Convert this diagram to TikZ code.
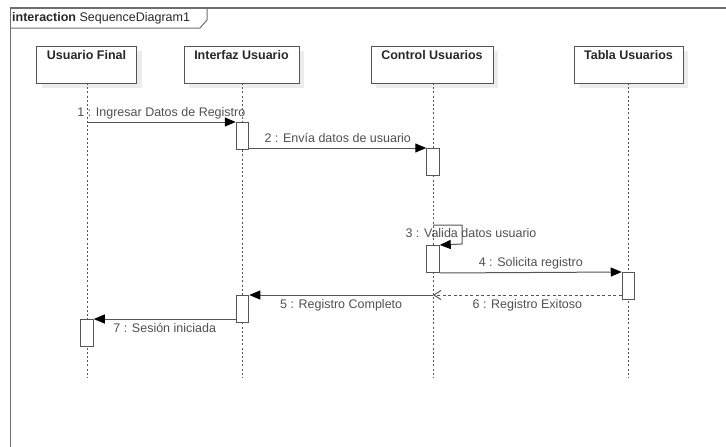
\documentclass[tikz,border=0pt]{standalone}
\usepackage{fontspec}
\setmainfont{Liberation Sans}
\usetikzlibrary{
	arrows.meta,
	positioning,
	shadows
}
\definecolor{LineGray}{RGB}{85,85,85}
\definecolor{FrameGray}{RGB}{110,110,110}
\definecolor{TextGray}{RGB}{80,80,80}
\definecolor{HeadText}{RGB}{40,40,40}
\definecolor{ShadowGray}{RGB}{236,236,236}

\tikzset{
	head/.style={draw=LineGray, fill=white, line width=0.9pt, minimum height=37pt,
		inner sep=0pt, drop shadow={shadow xshift=5pt, shadow yshift=-5pt, fill=ShadowGray, opacity=1}},
	headtext/.style={font=\fontsize{12.5}{14}\selectfont\bfseries, text=HeadText, inner sep=0pt},
	lifeline/.style={draw=LineGray, line width=0.9pt, dash pattern=on 2pt off 2.2pt},
	act/.style={draw=LineGray, fill=white, line width=1pt, minimum width=12.5pt,
		minimum height=27pt, inner sep=0pt, anchor=north},
	msg/.style={draw=LineGray, line width=1pt, -{Triangle[length=11pt, width=9pt, color=black]}},
	reply/.style={draw=LineGray, line width=1pt, dash pattern=on 3pt off 2.5pt,
		-{Straight Barb[length=7pt, width=9pt]}},
	msgtext/.style={font=\fontsize{12.5}{14}\selectfont, text=TextGray, inner sep=0pt,
		text height=9pt, text depth=2.5pt}
}

\begin{document}
\begin{tikzpicture}[x=1pt, y=-1pt]
	\useasboundingbox (0,0) rectangle (726,447);

	% frame and its name tab
	\draw[FrameGray, line width=1.2pt] (10.5,447) -- (10.5,8) -- (726,8);
	\draw[FrameGray, line width=1pt] (10.5,28) -- (200,28) -- (207,20) -- (207,8);
	\node[anchor=west, inner sep=0pt, text=HeadText, font=\fontsize{12.5}{14}\selectfont]
		(title) at (12,18.5) {\textbf{interaction} SequenceDiagram1};

	% lifeline heads
	\node[head, minimum width=100pt] (uf) at (86.5,64.5) {};
	\node[head, minimum width=115pt] (iu) at (241.5,64.5) {};
	\node[head, minimum width=122pt] (cu) at (432,64.5) {};
	\node[head, minimum width=109pt] (tu) at (628.5,64.5) {};
	\node[headtext, below=5pt of uf.north] {Usuario Final};
	\node[headtext, below=5pt of iu.north] {Interfaz Usuario};
	\node[headtext, below=5pt of cu.north] {Control Usuarios};
	\node[headtext, below=5pt of tu.north] {Tabla Usuarios};

	% lifelines
	\coordinate (ufx) at (87,83);
	\coordinate (iux) at (242.5,83);
	\coordinate (cux) at (433,83);
	\coordinate (tux) at (628.5,83);
	\foreach \l in {ufx,iux,cux,tux}
		\draw[lifeline] (\l) -- ++(0,295);

	% activations
	\node[act] (a1) at (iux |- 0,122) {};
	\node[act] (a2) at (cux |- 0,148) {};
	\node[act] (a3) at (cux |- 0,245) {};
	\node[act] (a4) at (tux |- 0,272) {};
	\node[act] (a5) at (iux |- 0,295) {};
	\node[act] (a7) at (ufx |- 0,319) {};

	% messages
	\draw[msg] (ufx |- a1.north) -- node[msgtext, above=3pt] {1 : Ingresar Datos de Registro} (a1.north west);
	\draw[msg] (a1.south east |- a2.north) -- node[msgtext, above=3pt] {2 : Envía datos de usuario} (a2.north west);
	\draw[msg] (cux |- 0,225) -- (462,225) -- (462,244) -- (a3.north east);
	\node[msgtext] (m3) at (471,234) {3 : Valida datos usuario};
	\draw[msg] (a3.south east) -- node[msgtext, above=3pt] {4 : Solicita registro} (a4.north west);
	\draw[reply] (a4.west |- a5.north) -- node[msgtext, below=4pt] {6 : Registro Exitoso} (cux |- a5.north);
	\draw[msg] (cux |- a5.north) -- node[msgtext, below=4pt] {5 : Registro Completo} (a5.north east);
	\draw[msg] (a5.south west |- a7.north) -- node[msgtext, below=4pt] {7 : Sesión iniciada} (a7.north east);
\end{tikzpicture}
\end{document}
